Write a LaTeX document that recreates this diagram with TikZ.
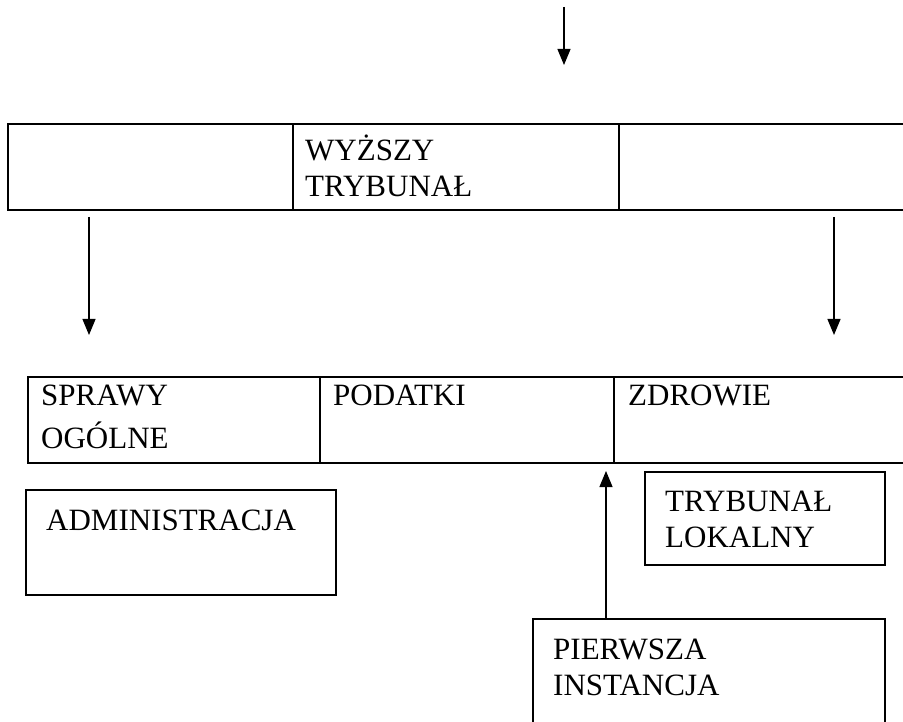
\documentclass[tikz,border=0pt]{standalone}
\usepackage{fontspec}
\setmainfont{Liberation Serif}
\usetikzlibrary{arrows.meta, positioning}
\tikzset{
  cell/.style  = {draw, rectangle, line width=2.2pt, anchor=north west, inner sep=0pt},
  box/.style   = {draw, rectangle, line width=1.6pt, anchor=north west, inner sep=0pt},
  lbl/.style   = {anchor=base west, align=left, inner sep=0pt,
                  font=\fontsize{31}{36}\selectfont},
  arrow/.style = {-{Triangle[length=16pt, width=13pt]}, line width=1.2pt},
}

\begin{document}
\begin{tikzpicture}[x=1pt, y=-1pt]
  \useasboundingbox (0,0) rectangle (903,722);
  % upper row
  \node[cell, minimum width=285, minimum height=86] (up1) at (7,123) {};
  \node[cell, minimum width=326, minimum height=86] (up2) at (292,123) {};
  \node[cell, minimum width=287, minimum height=86] (up3) at (618,123) {};
  \node[lbl] (wyz) at (305,197) {WYŻSZY\\TRYBUNAŁ};
  % lower row
  \node[cell, minimum width=292, minimum height=86] (lo1) at (27,376) {};
  \node[cell, minimum width=294, minimum height=86] (lo2) at (319,376) {};
  \node[cell, minimum width=292, minimum height=86] (lo3) at (613,376) {};
  \node[lbl] (spr) at (41,448) {SPRAWY\\[7pt]OGÓLNE};
  \node[lbl] (pod) at (333,405) {PODATKI};
  \node[lbl] (zdr) at (628,405) {ZDROWIE};
  % loose boxes
  \node[box, minimum width=310, minimum height=105] (adm) at (25,489) {};
  \node[lbl] (admt) at (46,530) {ADMINISTRACJA};
  \node[box, minimum width=240, minimum height=93] (lok) at (644,471) {};
  \node[lbl] (lokt) at (665,547) {TRYBUNAŁ\\LOKALNY};
  \node[box, minimum width=352, minimum height=120] (pie) at (532,618) {};
  \node[lbl] (piet) at (553,695) {PIERWSZA\\INSTANCJA};
  % arrows
  \coordinate (a0) at (564,7);   \coordinate (b0) at (564,65);
  \coordinate (a1) at (89,217);  \coordinate (b1) at (89,335);
  \coordinate (a2) at (834,217); \coordinate (b2) at (834,335);
  \coordinate (b3) at (606,471);
  \foreach \a/\b in {a0/b0, a1/b1, a2/b2} {
    \draw[arrow] (\a) -- (\b);
  }
  \draw[arrow] (pie.north -| b3) -- (b3);
\end{tikzpicture}
\end{document}
